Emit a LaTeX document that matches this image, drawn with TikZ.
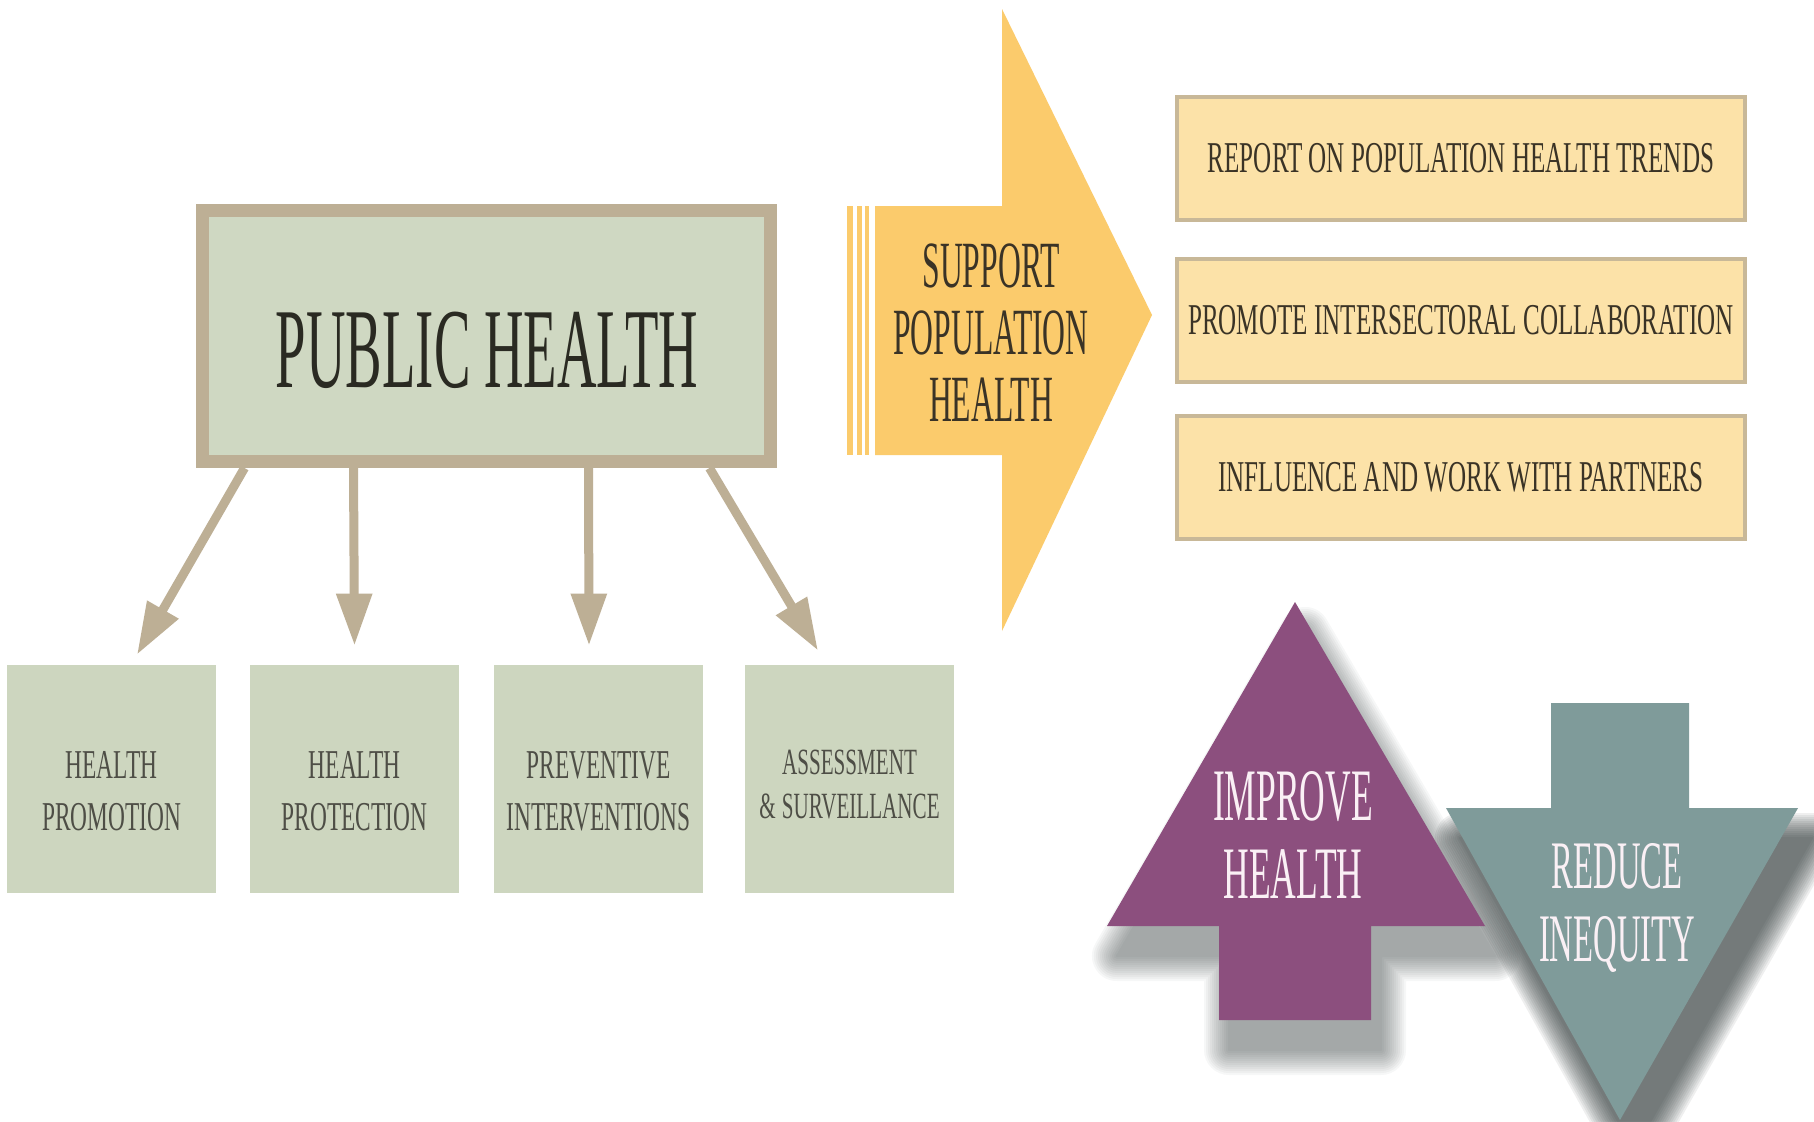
\documentclass[tikz,border=0pt]{standalone}
\usepackage{fontspec}
\usetikzlibrary{arrows.meta,calc}
\newfontfamily\fA[FakeStretch=0.48]{Liberation Serif}
\newfontfamily\fB[FakeStretch=0.57]{Liberation Serif}
\definecolor{sage}{HTML}{CFD8C2}
\definecolor{sagetwo}{HTML}{CDD6BF}
\definecolor{tanb}{HTML}{BDAF95}
\definecolor{yarrow}{HTML}{FBCB6C}
\definecolor{ylight}{HTML}{FCE2A8}
\definecolor{ybord}{HTML}{C8B898}
\definecolor{purp}{HTML}{8C4F7E}
\definecolor{teal}{HTML}{7F9B9A}
\definecolor{darktxt}{HTML}{2A2A22}
\definecolor{subtxt}{HTML}{4E4E46}
\definecolor{acttxt}{HTML}{3A3326}
\definecolor{lighttxt}{HTML}{FAF0F5}
\definecolor{shadowc}{HTML}{2A3434}
\tikzset{
  phbox/.style={draw=tanb, fill=sage, line width=6.5pt, minimum width=284pt, minimum height=125.5pt, inner sep=0pt},
  subbox/.style={fill=sagetwo, minimum width=104.5pt, minimum height=114pt, inner sep=0pt},
  actbox/.style={draw=ybord, fill=ylight, line width=2pt, minimum width=284pt, minimum height=61.5pt, inner sep=0pt},
  conn/.style={draw=tanb, line width=4.5pt, -{Triangle[length=26pt,width=17pt]}},
  subtext/.style={font=\fB\fontsize{20.5pt}{26pt}\selectfont, text=subtxt, align=center, inner sep=0pt},
  acttext/.style={font=\fB\fontsize{22pt}{26pt}\selectfont, text=acttxt, inner sep=0pt},
  bigtext/.style={font=\fA\fontsize{57pt}{60pt}\selectfont, text=darktxt, inner sep=0pt},
  supptext/.style={font=\fA\fontsize{33pt}{33.5pt}\selectfont, text=acttxt, align=center, inner sep=0pt},
  uptext/.style={font=\fA\fontsize{37pt}{39pt}\selectfont, text=lighttxt, align=center, inner sep=0pt},
  downtext/.style={font=\fA\fontsize{34pt}{36.5pt}\selectfont, text=lighttxt, align=center, inner sep=0pt},
  yshape/.style={insert path={(875,206) -- (1002,206) -- (1002,9) -- (1152,315) -- (1002,631) -- (1002,455) -- (875,455) -- cycle}},
  pshape/.style={insert path={(1295,602) -- (1485,926) -- (1371,926) -- (1371,1020) -- (1219,1020) -- (1219,926) -- (1107,926) -- cycle}},
  tshape/.style={insert path={(1551,703) -- (1689,703) -- (1689,808) -- (1798,808) -- (1620,1120) -- (1446,808) -- (1551,808) -- cycle}},
  theadshape/.style={insert path={(1446,808) -- (1798,808) -- (1620,1120) -- cycle}},
}
\begin{document}
\begin{tikzpicture}[x=0.5pt,y=-0.5pt]
\useasboundingbox (0,0) rectangle (1814,1121);
\fill[white] (0,0) rectangle (1814,1121);

% Public health box
\node[phbox] (ph) at (486.5,336) {};
\node[bigtext] (pht) at (487,350) {PUBLIC HEALTH};

% sub boxes
\node[subbox] (hp) at (111.5,779) {};
\node[subbox] (hpr) at (354.5,779) {};
\node[subbox] (pi) at (598.5,779) {};
\node[subbox] (as) at (849.5,779) {};
\node[subtext] (hpt) at ([yshift=-6pt]hp.center) {HEALTH\\PROMOTION};
\node[subtext] (hprt) at ([yshift=-6pt]hpr.center) {HEALTH\\PROTECTION};
\node[subtext] (pit) at ([yshift=-6pt]pi.center) {PREVENTIVE\\INTERVENTIONS};
\node[subtext, font=\fB\fontsize{18.5pt}{22pt}\selectfont] (ast) at ([yshift=-3pt]as.center) {ASSESSMENT\\\&\,SURVEILLANCE};

% connectors
\draw[conn] ([xshift=-121pt]ph.south) -- ([xshift=12.75pt,yshift=5pt]hp.north);
\draw[conn] ([xshift=-66.5pt]ph.south) -- ([yshift=9.5pt]hpr.north);
\draw[conn] ([xshift=51pt]ph.south) -- ([xshift=-4.75pt,yshift=9.5pt]pi.north);
\draw[conn] ([xshift=111.5pt]ph.south) -- ([xshift=-15.75pt,yshift=7pt]as.north);

% support arrow
\fill[yarrow] (847,206) rectangle (853,455);
\fill[yarrow] (857,206) rectangle (862,455);
\fill[yarrow] (865,206) rectangle (869,455);
\fill[yarrow, yshape];
\node[supptext] (sup) at (991,333) {SUPPORT\\POPULATION\\HEALTH};

% action boxes
\node[actbox] (a1) at (1461,158.5) {};
\node[actbox] (a2) at (1461,320) {};
\node[actbox] (a3) at (1461,477) {};
\node[acttext] (a1t) at (a1.center) {REPORT ON POPULATION HEALTH TRENDS};
\node[acttext] (a2t) at (a2.center) {PROMOTE INTERSECTORAL COLLABORATION};
\node[acttext] (a3t) at (a3.center) {INFLUENCE AND WORK WITH PARTNERS};

% soft shadows
\foreach \w in {2,6,...,50} {
  \begin{scope}[transparency group, opacity=0.04]
    \filldraw[shadowc, line width=\w*0.5pt, line join=round, shift={(10,30)}, pshape];
  \end{scope}
  \begin{scope}[transparency group, opacity=0.075]
    \filldraw[shadowc, line width=\w*0.5pt, line join=round, shift={(14,30)}, theadshape];
  \end{scope}
}
% up and down arrows
\fill[purp, pshape];
\fill[teal, tshape];
\node[uptext] (imp) at (1293,835) {IMPROVE\\HEALTH};
\node[downtext] (red) at (1617,908) {REDUCE\\INEQUITY};
\end{tikzpicture}
\end{document}
